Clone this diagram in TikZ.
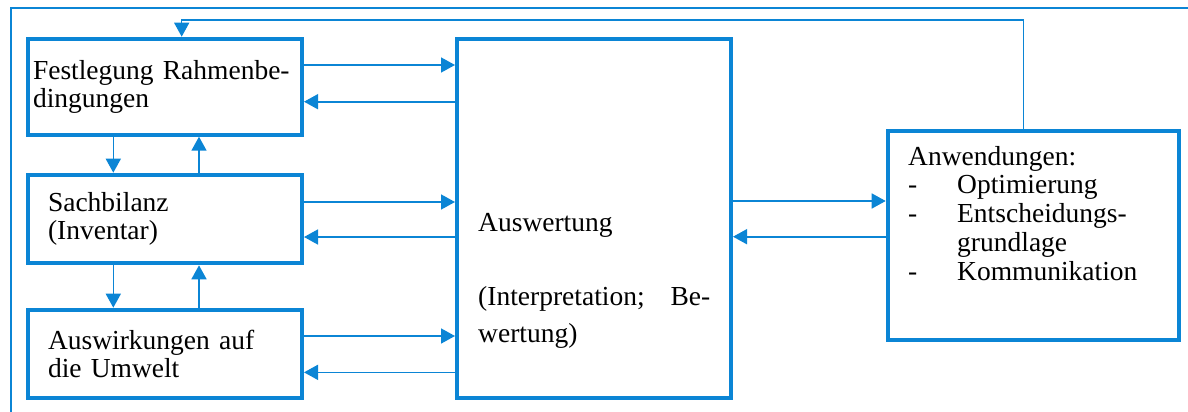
\documentclass[tikz,border=0pt]{standalone}
\usepackage{fontspec}
\setmainfont{Liberation Serif}
\usetikzlibrary{arrows.meta, positioning}
\definecolor{lcablue}{HTML}{0B85D5}
\tikzset{
    box/.style={rectangle, draw=lcablue, line width=4pt, inner sep=0pt, align=left, font=\fontsize{27.5}{28}\selectfont},
    boxtext/.style={anchor=base west, align=left, inner sep=0pt},
    arrow/.style={-{Triangle[length=14pt, width=15pt]}, draw=lcablue, line width=1.6pt},
    line/.style={draw=lcablue, line width=2pt}
}
\begin{document}
\begin{tikzpicture}[x=1pt, y=-1pt]
    \useasboundingbox (0,0) rectangle (1188,412);
    % frame
    \draw[line] (1188,8.5) -- (10.5,8.5) -- (10.5,412);

    % left column
    \node[box, minimum width=274pt, minimum height=96pt, text width=264pt] (festlegung) at (165,86.7) {Festlegung Rahmenbe-\\dingungen\par\vspace*{9pt}};
    \node[box, minimum width=274pt, minimum height=88.6pt, text width=234pt, below=36pt of festlegung] (sachbilanz) {Sachbilanz\\(Inventar)\par\vspace*{8pt}};
    \node[box, minimum width=274pt, minimum height=88.3pt, text width=234pt, below=42.4pt of sachbilanz] (auswirkungen) {Auswirkungen auf\\die Umwelt\par\vspace*{8pt}};

    % Auswertung
    \node[box, minimum width=274pt, minimum height=359.3pt, anchor=north west] (auswertung) at ([xshift=151pt]festlegung.north east) {};
    \node[boxtext, font=\fontsize{27.5}{37}\selectfont] (auswertung_text) at (478,342) {Auswertung\\[37pt]\makebox[232pt][l]{(Interpretation;\hfill Be-}\\wertung)};

    % Anwendungen
    \node[box, minimum width=291pt, minimum height=209.3pt, right=152.7pt of auswertung, yshift=-17.35pt] (anwendungen) {};
    \node[boxtext, font=\fontsize{27.5}{28.7}\selectfont] (anwendungen_text) at (908,280) {Anwendungen:\\\makebox[49pt][l]{-}Optimierung\\\makebox[49pt][l]{-}Entscheidungs-\\\hspace*{49pt}grundlage\\\makebox[49pt][l]{-}Kommunikation};

    % Arrows left column <-> Auswertung
    \draw[arrow] ([yshift=21.7pt]festlegung.east) -- ([yshift=21.7pt]festlegung.east -| auswertung.west);
    \draw[arrow] ([yshift=-15pt]festlegung.east -| auswertung.west) -- ([yshift=-15pt]festlegung.east);
    \draw[arrow] ([yshift=17pt]sachbilanz.east) -- ([yshift=17pt]sachbilanz.east -| auswertung.west);
    \draw[arrow] ([yshift=-18pt]sachbilanz.east -| auswertung.west) -- ([yshift=-18pt]sachbilanz.east);
    \draw[arrow] ([yshift=17.85pt]auswirkungen.east) -- ([yshift=17.85pt]auswirkungen.east -| auswertung.west);
    \draw[arrow] ([yshift=-18.5pt]auswirkungen.east -| auswertung.west) -- ([yshift=-18.5pt]auswirkungen.east);

    % Arrows within left column
    \draw[arrow] ([xshift=-51.7pt]festlegung.south) -- ([xshift=-51.7pt]sachbilanz.north);
    \draw[arrow] ([xshift=34pt]sachbilanz.north) -- ([xshift=34pt]festlegung.south);
    \draw[arrow] ([xshift=-51.7pt]sachbilanz.south) -- ([xshift=-51.7pt]auswirkungen.north);
    \draw[arrow] ([xshift=34pt]auswirkungen.north) -- ([xshift=34pt]sachbilanz.south);

    % Auswertung <-> Anwendungen
    \draw[arrow] ([yshift=34.7pt]anwendungen.west -| auswertung.east) -- ([yshift=34.7pt]anwendungen.west);
    \draw[arrow] ([yshift=-1pt]anwendungen.west) -- ([yshift=-1pt]anwendungen.west -| auswertung.east);

    % feedback
    \coordinate (feedback) at (0,20);
    \draw[arrow, line width=1.5pt] ([xshift=-9.9pt]anwendungen.north) -- ([xshift=-9.9pt]anwendungen.north |- feedback) -| ([xshift=16.7pt]festlegung.north);
\end{tikzpicture}
\end{document}
